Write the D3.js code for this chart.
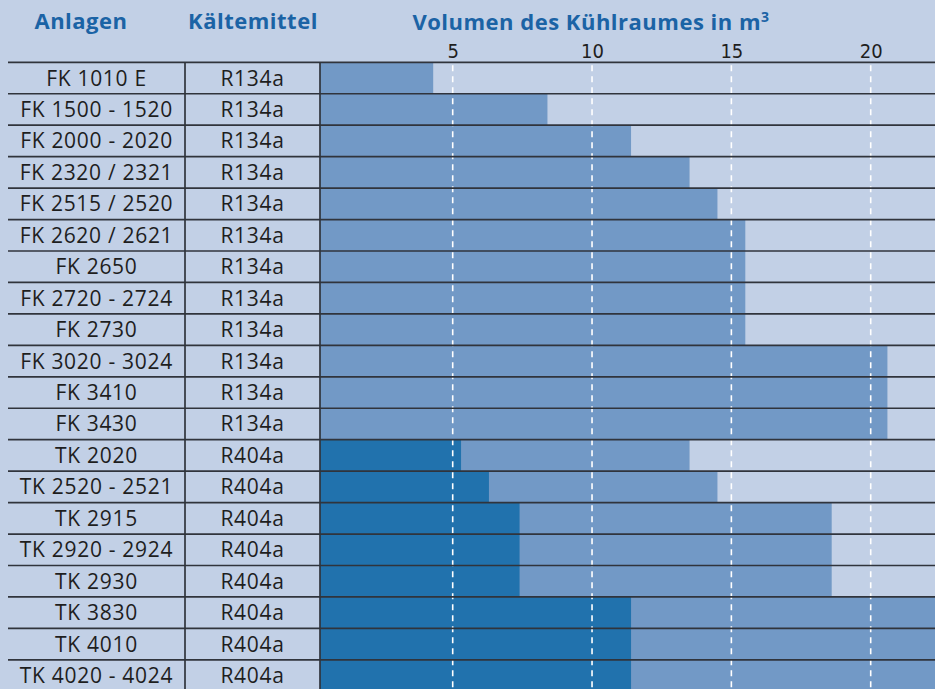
<!DOCTYPE html>
<html>
<head>
<meta charset="utf-8">
<script src="https://cdn.jsdelivr.net/npm/d3@7"></script>
<style>
  html, body { margin: 0; padding: 0; background: #c2d0e6; }
  svg { display: block; }
</style>
</head>
<body>
<svg id="chart" width="935" height="689"></svg>
<script>
// ---- data ----
const anlagen = [
  "FK 1010 E", "FK 1500 - 1520", "FK 2000 - 2020", "FK 2320 / 2321", "FK 2515 / 2520",
  "FK 2620 / 2621", "FK 2650", "FK 2720 - 2724", "FK 2730", "FK 3020 - 3024",
  "FK 3410", "FK 3430", "TK 2020", "TK 2520 - 2521", "TK 2915",
  "TK 2920 - 2924", "TK 2930", "TK 3830", "TK 4010", "TK 4020 - 4024"
];
const kaeltemittel = [
  "R134a", "R134a", "R134a", "R134a", "R134a",
  "R134a", "R134a", "R134a", "R134a", "R134a",
  "R134a", "R134a", "R404a", "R404a", "R404a",
  "R404a", "R404a", "R404a", "R404a", "R404a"
];
// upper volume (medium blue), m³
const volumenMax = [
  4.3, 8.4, 11.4, 13.5, 14.5,
  15.5, 15.5, 15.5, 15.5, 20.6,
  20.6, 20.6, 13.5, 14.5, 18.6,
  18.6, 18.6, 23, 23, 23
];
// lower volume (dark blue, deep-freeze units), m³
const volumenTK = [
  0, 0, 0, 0, 0,
  0, 0, 0, 0, 0,
  0, 0, 5.3, 6.3, 7.4,
  7.4, 7.4, 11.4, 11.4, 11.4
];
const tickValues = [5, 10, 15, 20];
const headers = ["Anlagen", "Kältemittel", "Volumen des Kühlraumes in m"];

// ---- layout ----
const W = 935, H = 689;
const tableLeft = 8, col2Left = 185, barLeft = 320;
const topY = 62.3, rowH = 31.45;
const colors = {
  bg: "#c2d0e6", mid: "#7299c6", dark: "#2172ad",
  head: "#1b63a5", line: "#30343c", text: "#1e1e1e"
};

const svg = d3.select("#chart");
svg.append("rect").attr("width", W).attr("height", H).attr("fill", colors.bg);

const y = d3.scaleBand().domain(anlagen).range([topY, topY + rowH * anlagen.length]).padding(0);
const x = d3.scaleLinear().domain([5, 20]).range([452.7, 870.7]);

const data = anlagen.map((a, i) => ({ a, k: kaeltemittel[i], v: volumenMax[i], t: volumenTK[i] }));

// clip for bar area
svg.append("clipPath").attr("id", "clip")
  .append("rect").attr("x", barLeft).attr("y", topY).attr("width", W - barLeft).attr("height", H - topY);

const bars = svg.append("g").attr("clip-path", "url(#clip)");
bars.selectAll("rect.mid").data(data).join("rect")
  .attr("class", "mid")
  .attr("x", barLeft)
  .attr("y", d => y(d.a))
  .attr("width", d => Math.max(0, x(d.v) - barLeft))
  .attr("height", y.bandwidth())
  .attr("fill", colors.mid);
bars.selectAll("rect.dark").data(data.filter(d => d.t > 0)).join("rect")
  .attr("class", "dark")
  .attr("x", barLeft)
  .attr("y", d => y(d.a))
  .attr("width", d => Math.max(0, x(d.t) - barLeft))
  .attr("height", y.bandwidth())
  .attr("fill", colors.dark);

// dashed grid lines
svg.append("g").selectAll("line").data(tickValues).join("line")
  .attr("x1", d => x(d)).attr("x2", d => x(d))
  .attr("y1", topY + 3).attr("y2", H)
  .attr("stroke", "#ffffff").attr("stroke-width", 1.6)
  .attr("stroke-dasharray", "6,5");

// row lines
const bounds = anlagen.map(a => y(a));
svg.append("g").selectAll("line").data(bounds).join("line")
  .attr("x1", tableLeft).attr("x2", W)
  .attr("y1", d => d).attr("y2", d => d)
  .attr("stroke", colors.line).attr("stroke-width", 1.7);

// vertical separators
svg.append("g").selectAll("line").data([col2Left, barLeft]).join("line")
  .attr("x1", d => d).attr("x2", d => d)
  .attr("y1", topY).attr("y2", H)
  .attr("stroke", colors.line).attr("stroke-width", 1.7);

// cell texts
const font = "'Open Sans', 'Noto Sans', sans-serif";
svg.append("g").selectAll("text").data(data).join("text")
  .attr("x", (tableLeft + col2Left) / 2)
  .attr("y", d => y(d.a) + y.bandwidth() / 2 + 7.5)
  .attr("text-anchor", "middle")
  .attr("font-family", font).attr("font-size", 21)
  .attr("letter-spacing", 0.7)
  .attr("fill", colors.text)
  .text(d => d.a);
svg.append("g").selectAll("text").data(data).join("text")
  .attr("x", (col2Left + barLeft) / 2)
  .attr("y", d => y(d.a) + y.bandwidth() / 2 + 7.5)
  .attr("text-anchor", "middle")
  .attr("font-family", font).attr("font-size", 21)
  .attr("letter-spacing", 0.7)
  .attr("fill", colors.text)
  .text(d => d.k);

// axis (tick labels)
const axis = d3.axisTop(x).tickValues(tickValues).tickSize(0).tickPadding(0).tickFormat(d3.format("d"));
const ax = svg.append("g").attr("transform", `translate(0, 58)`).call(axis);
ax.select(".domain").remove();
ax.selectAll("text")
  .attr("font-family", "'Liberation Sans Narrow', 'DejaVu Sans Condensed', sans-serif")
  .attr("font-stretch", "condensed")
  .attr("font-size", 20)
  .attr("fill", colors.text);

// headers
const hg = svg.append("g")
  .attr("font-family", font).attr("font-weight", "bold").attr("font-size", 22)
  .attr("letter-spacing", 0.5)
  .attr("fill", colors.head).attr("text-anchor", "middle");
hg.append("text").attr("x", 81).attr("y", 29).text(headers[0]);
hg.append("text").attr("x", 253).attr("y", 29).text(headers[1]);
const vt = hg.append("text").attr("x", 591).attr("y", 30);
vt.append("tspan").text(headers[2]);
vt.append("tspan").attr("dy", -8).attr("font-size", 14).text("3");
</script>
</body>
</html>
